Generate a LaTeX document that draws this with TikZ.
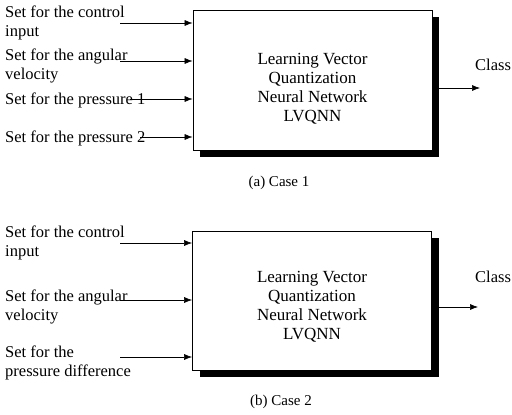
\documentclass[tikz,border=0pt]{standalone}
\usepackage{fontspec}
\setmainfont{Liberation Serif}
\usetikzlibrary{shadows}
\usetikzlibrary{arrows.meta}
\tikzstyle{lvqbox}=[draw, thick, fill=white, minimum width=239pt, minimum height=140pt,
  drop shadow={shadow xshift=7pt, shadow yshift=-7pt, fill=black, opacity=1}]
\tikzstyle{setlabel}=[anchor=west, align=left, inner sep=0pt]
\tikzstyle{feed}=[semithick, -{Latex[length=8pt, width=6pt]}]

\begin{document}
\begin{tikzpicture}[x=1pt, y=-1pt, font=\fontsize{16.5}{19}\selectfont]
          \useasboundingbox (0, 0) rectangle (512, 415);
          % case 1
          \node[lvqbox] (boxa) at (312.5, 80) {};
          \node[align=center, font=\fontsize{17}{19}\selectfont] (lvqa) at (312.5, 89)
            {Learning Vector\\Quantization\\Neural Network\\LVQNN};
          \node[setlabel] (ctla) at (5, 22.5) {Set for the control\\input};
          \node[setlabel] (anga) at (5, 66) {Set for the angular\\velocity};
          \node[setlabel] (pra) at (5, 100) {Set for the pressure 1};
          \node[setlabel] (prb) at (5, 138) {Set for the pressure 2};
          \coordinate (ctla in) at (120, 23);
          \coordinate (anga in) at (120, 61);
          \coordinate (pra in) at (130, 99);
          \coordinate (prb in) at (140, 137);
          \draw[feed] (ctla in) -- (ctla in -| boxa.west);
          \draw[feed] (anga in) -- (anga in -| boxa.west);
          \draw[feed] (pra in) -- (pra in -| boxa.west);
          \draw[feed] (prb in) -- (prb in -| boxa.west);
          \coordinate (outa) at (480, 88);
          \draw[feed] (outa -| boxa.east) ++(7, 0) -- (outa);
          \node[anchor=west, inner sep=0pt] (clsa) at (475, 65) {Class};
          \node (capa) at (279, 183) {\fontsize{15}{17}\selectfont (a) Case 1};
          % case 2
          \node[lvqbox, minimum height=139pt] (boxb) at (312, 300.5) {};
          \node[align=center, font=\fontsize{17}{19}\selectfont] (lvqb) at (312, 306.5)
            {Learning Vector\\Quantization\\Neural Network\\LVQNN};
          \node[setlabel] (ctlb) at (5, 243) {Set for the control\\input};
          \node[setlabel] (angb) at (5, 307) {Set for the angular\\velocity};
          \node[setlabel] (prd) at (5, 363) {Set for the\\pressure difference};
          \coordinate (ctlb in) at (120, 243);
          \coordinate (angb in) at (120, 300);
          \coordinate (prd in) at (120, 357);
          \draw[feed] (ctlb in) -- (ctlb in -| boxb.west);
          \draw[feed] (angb in) -- (angb in -| boxb.west);
          \draw[feed] (prd in) -- (prd in -| boxb.west);
          \coordinate (outb) at (478, 307);
          \draw[feed] (outb -| boxb.east) ++(7, 0) -- (outb);
          \node[anchor=west, inner sep=0pt] (clsb) at (475, 277) {Class};
          \node (capb) at (281, 402) {\fontsize{15}{17}\selectfont (b) Case 2};
        \end{tikzpicture}
\end{document}
